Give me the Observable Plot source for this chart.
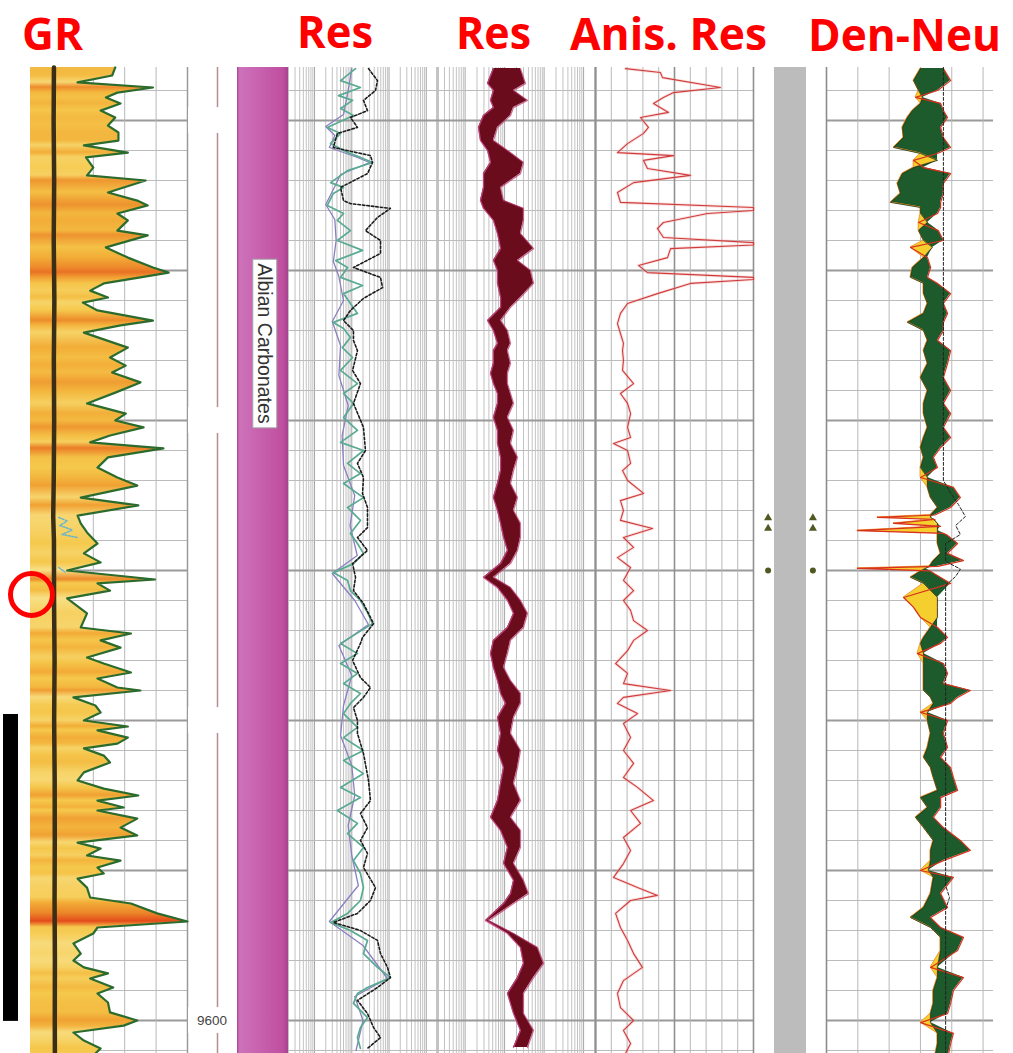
<!DOCTYPE html>
<html><head><meta charset="utf-8">
<script src="https://cdn.jsdelivr.net/npm/d3@7"></script>
<script src="https://cdn.jsdelivr.net/npm/@observablehq/plot@0.6"></script>
<style>
html,body{margin:0;padding:0;background:#fff;}
#chart{position:relative;width:1013px;height:1053px;overflow:hidden;font-family:"Liberation Sans",Arial,sans-serif;}
</style></head><body><div id="chart"></div>
<script>
// ---------------- DATA ----------------
const titleText = ["GR", "Res", "Res", "Anis. Res", "Den-Neu"];
const depthLabels = [9300, 9400, 9500, 9600];
const depthLabelText = ["", "", "", "9600"];
const formationName = ["Albian Carbonates"];
const formationTop = [9282.33];
const formationBottom = [9611];
const formationLabelDepth = [9374.3];

// GR (API) : [depth ft, value]
const grCurve = [[9282.3,81],[9285,78],[9287.3,45],[9289,117],[9290.7,83],[9292.3,72],[9294.3,86],[9296.7,67],[9299,81],[9301.7,74],[9304,84],[9306.7,84],[9308.3,51],[9310.7,93],[9312.3,53],[9315.7,60],[9318.3,54],[9320,110],[9324,74],[9326.7,102],[9328.3,112],[9331,83],[9333.3,93],[9336.7,83],[9338.3,112],[9342.3,72],[9345.7,93],[9349,117],[9350.7,132],[9352.3,105],[9354.3,70],[9356.7,57],[9359,74],[9360.7,50],[9363.3,64],[9366.7,117],[9368.3,86],[9370.7,51],[9375.7,93],[9379,76],[9381.7,91],[9384,78],[9387.3,105],[9390.7,81],[9394.3,54],[9397.7,91],[9400,81],[9402.3,108],[9405,76],[9407.3,57],[9409.3,127],[9412.3,74],[9415.7,64],[9419,83],[9421.7,102],[9425.7,48],[9428.3,103],[9431.7,45],[9434.3,48],[9437.3,54],[9441,64],[9444.3,51],[9447.3,67],[9450,35],[9453,119],[9454.3,64],[9456.7,76],[9459.3,35],[9464.3,54],[9469,48],[9471,96],[9473.3,67],[9475.7,86],[9479,54],[9481,70],[9484,96],[9486,64],[9489,83],[9490,105],[9492.3,41],[9495,62],[9497.3,67],[9500,51],[9502,93],[9503.3,64],[9505.7,93],[9507.7,83],[9509.3,51],[9511.7,70],[9514,76],[9517.3,51],[9520,45],[9522.7,70],[9525,103],[9526.7,64],[9529,89],[9530,64],[9532.7,102],[9535.7,86],[9538.3,102],[9540.7,45],[9542.7,67],[9545,54],[9546.7,86],[9549,64],[9551,70],[9552.7,45],[9555.7,54],[9559,57],[9561,96],[9564.3,121],[9567,150],[9569,64],[9571,60],[9574.3,41],[9577.7,48],[9580,41],[9582.3,51],[9584.3,74],[9586,57],[9589,79],[9591,64],[9594,74],[9597.3,76],[9600,102],[9601.7,89],[9604,41],[9606.7,51],[9609.3,67],[9611,62]];
// caliper-like curve in GR track
const calCurve = [[9282.3,22.4],[9300,22.1],[9320,22.6],[9340,22.2],[9360,22.8],[9380,22.3],[9400,22.6],[9420,22.2],[9432,21.7],[9440,22.4],[9460,22.5],[9480,23.0],[9500,22.6],[9520,23.1],[9540,23.2],[9560,23.0],[9580,23.3],[9600,23.2],[9611,23.3]];
const grDotCurve = [[9432.3,27],[9433.5,35],[9435,28],[9436.5,40],[9438,30],[9439,45],[9440,null],[9449,27],[9450.5,33]];

// Resistivity track 1 (ohm.m)
const resTeal = [[9282.7,12.6],[9286.7,5.0],[9289,17.1],[9291.7,4.4],[9293.3,10.5],[9296,5.0],[9298.3,11.1],[9302.3,2.2],[9304.3,5.0],[9307.7,2.7],[9310.7,7.7],[9312.3,17.1],[9314,36],[9316.7,7.7],[9320.7,2.7],[9322.3,6.0],[9324.3,3.2],[9328.3,2.2],[9331,6.0],[9333.3,4.1],[9336.7,9.2],[9340,4.1],[9343.3,19.4],[9346.7,3.7],[9349,7.7],[9352.3,5.0],[9355,19.4],[9357.7,6.0],[9361,9.2],[9364.3,14.2],[9367.3,3.2],[9369.3,6.0],[9372.3,9.2],[9375.7,5.6],[9379,10.5],[9383.3,5.0],[9387.7,14.2],[9391,6.0],[9394.3,11.1],[9399,6.0],[9403.3,14.2],[9407.3,5.0],[9410,20.6],[9414.3,7.7],[9417.7,17.1],[9421,6.0],[9425.7,20.6],[9429,7.7],[9433.3,17.1],[9437.7,9.2],[9441,14.2],[9444.3,20.6],[9447.7,11.1],[9450.7,3.2],[9453.3,7.7],[9456.7,9.2],[9460,17.1],[9464,26.4],[9467.7,36],[9472.3,9.2],[9474.3,5.0],[9477.7,14.2],[9481,5.0],[9484.3,14.2],[9487.7,6.0],[9491,17.1],[9494.3,9.2],[9497.7,6.0],[9502.3,14.2],[9505.7,6.0],[9510,20.6],[9513.3,6.0],[9517.7,20.6],[9522.3,5.0],[9525.7,17.1],[9530,4.1],[9534.3,14.2],[9537.7,7.7],[9542.3,20.6],[9546.7,11.1],[9551,17.1],[9555.7,20.6],[9560,17.1],[9564.3,7.7],[9567.3,2.7],[9570,9.2],[9573.3,26.4],[9577.7,20.6],[9582.3,49],[9585.7,109],[9589,26.4],[9591,14.2],[9594.3,11.1],[9599,26.4],[9602.3,17.1],[9605.7,14.2],[9609.3,17.1]];
const resPurple = [[9282.7,10],[9290,8],[9298,6],[9302,2.0],[9305,3.5],[9309,2.5],[9312,12],[9314,30],[9318,5],[9322,3.5],[9328,2.0],[9333,3.5],[9340,3.8],[9347,3.2],[9352,4.5],[9360,6],[9367,3.0],[9375,5],[9385,4.5],[9395,8],[9405,5.5],[9415,6],[9425,12],[9435,9],[9445,14],[9451,3.0],[9460,12],[9468,28],[9475,4.5],[9485,10],[9495,6],[9505,5],[9515,10],[9525,12],[9535,8],[9545,10],[9555,15],[9567,2.5],[9575,20],[9586,90],[9592,12],[9600,20],[9610,13]];
const resDotted = [[9282.7,28.1],[9286.7,49],[9290,43.3],[9293.3,20.6],[9296.7,26.4],[9299,9.2],[9302.3,14.2],[9304.3,4.1],[9309,3.2],[9311.7,31.8],[9314,36],[9317.7,26.4],[9322.3,5.0],[9326.7,6.0],[9327.7,9.2],[9329.3,109],[9332.3,49],[9336.7,23.3],[9340,59],[9344.3,59],[9349,11.1],[9352.3,59],[9355.7,67],[9359.3,20.6],[9363.3,9.2],[9366.7,6.0],[9370,11.1],[9373.3,11.1],[9376.7,14.2],[9383.3,10.5],[9387.7,17.1],[9394.3,11.1],[9402.3,20.6],[9410,23.3],[9414.3,14.2],[9419,20.6],[9424.3,19.4],[9429,26.4],[9435.7,26.4],[9439,14.2],[9443.3,26.4],[9447.7,10.5],[9452.3,12.6],[9456.7,11.1],[9461,20.6],[9467.7,38.3],[9472.3,19.4],[9474.3,17.1],[9480,10.5],[9485.7,17.1],[9489,31.8],[9492.3,20.6],[9495.7,11.1],[9500,14.2],[9504.3,14.2],[9511,20.6],[9520,28.1],[9526.7,31.8],[9531,17.1],[9535.7,26.4],[9540,17.1],[9544.3,26.4],[9549,20.6],[9555.7,43.3],[9560,31.8],[9564.3,14.2],[9567.3,3.2],[9570,17.1],[9573.3,49],[9577.7,59],[9582.3,91],[9585.7,109],[9589,49],[9593.3,14.2],[9597.7,26.4],[9602.3,38.3],[9605.7,59],[9609.3,26.4]];

// Resistivity track 2 : [depth, low curve, high curve]
const res2Band = [[9282.7,5.2,25.2],[9287.7,3.69,33.8],[9290,5.2,16.8],[9293.3,4.4,38],[9295.7,5.2,16.8],[9298.3,2.92,14.1],[9302.3,2.18,6.6],[9306.7,2.45,5.2],[9310,3.69,11.8],[9314,4.4,30],[9317.7,2.92,25.2],[9322.3,2.92,7.9],[9326.7,2.45,9.4],[9329.3,2.92,30],[9333.3,5.2,30],[9337.7,6.6,25.2],[9342.7,7.9,54],[9346.7,5.2,21.2],[9350,6.6,45],[9354.3,6.6,54],[9359,7.9,25.2],[9362.3,7.9,14.1],[9366.7,3.69,7.9],[9370,5.2,11.8],[9374.3,6.6,14.1],[9376.7,5.2,11.8],[9381,5.2,14.1],[9384.3,4.4,11.8],[9387.7,5.2,11.8],[9391,6.6,14.1],[9394.3,6.6,16.8],[9399,5.2,11.8],[9403.3,6.6,16.8],[9407.7,6.6,14.1],[9412.3,7.9,21.2],[9416.7,7.9,16.8],[9421,6.6,14.1],[9425.7,5.2,21.2],[9430,6.6,16.8],[9434.3,7.9,25.2],[9439,9.4,25.2],[9443.3,11.8,21.2],[9447.7,7.9,14.1],[9452.3,2.92,5.2],[9455.7,6.6,14.1],[9460,11.8,25.2],[9464.3,16.8,38],[9469,11.8,30],[9473.3,5.2,14.1],[9477.7,4.4,11.8],[9482.3,5.2,9.4],[9486.7,6.6,14.1],[9491,7.9,25.2],[9494.3,10.5,25.2],[9499,6.6,16.8],[9504.3,7.9,14.1],[9510,6.6,25.2],[9515.7,9.4,21.2],[9521,7.9,16.8],[9526.7,6.6,25.2],[9532.3,4.4,14.1],[9536.7,7.9,25.2],[9542.3,11.8,25.2],[9547.7,9.4,16.8],[9553.3,16.8,30],[9557.7,14.1,40],[9561,9.4,16.8],[9566.7,3.28,3.91],[9571,11.8,16.8],[9575.7,25.2,68],[9581,30,97],[9585.7,21.2,54],[9591,11.8,30],[9597.7,16.8,30],[9603.3,25.2,54],[9609,16.8,38]];

// Anisotropy of resistivity
const anisCurve = [[9282.7,1.90],[9284,4.11],[9285.7,4.24],[9289,7.91],[9290.7,4.94],[9292.3,4.30],[9294.3,3.67],[9297.3,4.62],[9299,2.85],[9302.3,3.35],[9304.3,3.04],[9307.7,2.03],[9310.7,1.39],[9311.7,4.94],[9313.3,3.04],[9316,3.29],[9318.3,6.01],[9320.7,2.41],[9324,1.39],[9327.3,1.58],[9329,10],[9330,10],[9331,7.09],[9334,4.30],[9336,3.92],[9339,4.30],[9340.7,10],[9341.5,10],[9342.7,4.75],[9345.7,4.56],[9348.3,2.72],[9350.7,3.29],[9352.3,10],[9353,10],[9354.3,6.01],[9357.7,3.92],[9361,2.03],[9364.3,1.58],[9367.7,1.39],[9371,1.58],[9374.3,1.77],[9376.7,1.71],[9380,1.77],[9383.3,1.71],[9387.7,2.41],[9391,1.58],[9394.3,2.03],[9397.7,2.22],[9402.3,2.03],[9405.7,2.22],[9407.7,1.14],[9410,2.03],[9414.3,2.22],[9416.7,1.71],[9420,2.03],[9424.3,3.04],[9426.7,1.58],[9430,1.77],[9433.3,1.58],[9436,3.61],[9439,1.77],[9442.3,2.41],[9445.7,1.39],[9449,2.22],[9453.3,1.77],[9456.7,2.41],[9460,1.77],[9463.3,2.22],[9466.7,2.41],[9470,3.29],[9473.3,2.41],[9476.7,2.03],[9481,1.27],[9484.3,2.03],[9487.7,1.77],[9490,4.75],[9492.3,1.77],[9494.3,1.39],[9497.7,2.66],[9501,1.77],[9505.7,2.22],[9510,1.77],[9514.3,2.41],[9519,1.77],[9522.3,2.66],[9526.7,3.67],[9530,2.22],[9534.3,2.85],[9539,1.77],[9543.3,2.22],[9547.7,1.77],[9552.3,1.14],[9555.7,2.66],[9558.3,3.92],[9560,2.22],[9564.3,1.27],[9569,1.58],[9573.3,2.03],[9577.7,2.41],[9582.3,2.97],[9586.7,1.77],[9591,1.39],[9595.7,1.58],[9600,2.41],[9603.3,1.77],[9607.7,2.22],[9611,1.90]];

// Density-Neutron (p.u.) : [depth, neutron, density]
const denNeu = [[9282.7,11.2,3.0],[9286.7,13.7,0.4],[9290,11.9,5.1],[9292.3,10.5,13.0],[9294.3,11.2,4.0],[9296.7,14.1,3.0],[9299,15.9,1.5],[9302.3,17.7,4.0],[9305.7,17.3,3.0],[9309,20.9,0.4],[9311,11.2,5.1],[9313.3,5.1,13.7],[9315.7,13.7,10.1],[9317.7,17.7,0.4],[9321,19.5,3.0],[9324.3,18.4,3.0],[9327.3,22.0,4.0],[9329,11.2,4.0],[9331,11.2,5.1],[9334,8.7,11.9],[9336.7,11.9,4.8],[9340,10.1,3.0],[9342.3,6.9,14.8],[9345.7,10.1,8.7],[9349,14.1,7.6],[9352.3,14.8,8.7],[9354.3,10.1,5.1],[9357.7,10.1,0.4],[9361,8.7,3.0],[9364.3,10.1,1.5],[9367.3,15.9,3.0],[9370,10.1,3.0],[9373.3,8.7,5.1],[9376.7,10.1,0.4],[9381,8.7,1.5],[9385.7,11.2,3.0],[9390,8.7,0.4],[9394.3,10.1,3.0],[9397.7,10.1,0.4],[9402.3,8.7,3.0],[9405.7,10.1,0.4],[9409,11.2,4.0],[9412.3,10.1,6.6],[9415.7,11.2,5.1],[9419,8.7,11.2],[9422.3,8.7,-0.6],[9425.7,7.6,-3.1],[9429,5.1,0.4],[9431.5,7.6,6.0],[9432.3,7.6,26.7],[9433,6.5,6.0],[9434.3,5.1,20.9],[9435.3,5.1,4.0],[9436.7,5.1,33.9],[9437.6,5.1,3.0],[9438.3,5.1,1.5],[9441,5.1,-2.1],[9444.3,4.0,1.5],[9446.7,6.6,-4.2],[9448.6,8.0,5.0],[9449.3,9.4,33.9],[9450.1,11.0,8.0],[9452.3,14.8,4.0],[9454.3,10.1,0.4],[9459,5.1,17.3],[9462.3,5.1,13.7],[9465.7,5.1,11.2],[9469,7.6,5.1],[9472.3,10.1,1.5],[9474.3,11.2,4.0],[9477.7,10.1,12.3],[9481,10.1,3.0],[9484.3,10.1,1.5],[9487.7,10.1,3.0],[9490,10.1,-6.7],[9492.3,7.6,-2.1],[9494.3,6.6,0.4],[9497.3,8.7,11.2],[9500,8.7,1.5],[9504.3,7.6,3.0],[9509,8.7,1.5],[9512.3,10.1,4.0],[9515.7,7.6,0.4],[9519,6.6,-0.6],[9523.3,5.1,-2.1],[9525.7,11.2,4.0],[9529,8.7,4.0],[9532.3,13.0,6.6],[9535.7,10.1,3.0],[9540,6.6,-3.1],[9543.3,7.6,-6.7],[9546.7,7.6,3.0],[9550,8.4,11.2],[9552.3,6.6,-0.6],[9557.7,7.6,4.0],[9562.3,10.1,1.5],[9565.7,14.8,7.6],[9569,7.6,4.0],[9572.3,4.0,-4.2],[9576.7,4.0,-2.1],[9582.3,5.1,7.6],[9585.7,5.1,-4.2],[9590,6.6,-0.6],[9594.3,6.6,0.4],[9597.7,7.6,1.5],[9600.7,7.6,11.2],[9604.3,5.1,-0.6],[9607.7,5.1,0.4],[9611,5.8,1.1]];
const denDashed = [[9282.3,3.0],[9420,3.0],[9424,0.5],[9428,-2.4],[9432,-4.9],[9435,-1.4],[9438,-3.1],[9441,2.2],[9447,2.2],[9449.5,-3.1],[9452,-1.4],[9455,2.2],[9555,2.2],[9559,0.8],[9563,2.2],[9611,2.2]];

// markers beside the grey column
const markDepth = [9432.5, 9436, 9432.5, 9436, 9450, 9450];
const markSide = [-0.2, -0.2, 1.2, 1.2, -0.2, 1.2];
const markSymbol = ["triangle", "triangle", "triangle", "triangle", "circle", "circle"];

// annotations
const annoBarTop = [9498], annoBarBottom = [9600.3];
const annoCircleDepth = [9458];

// ---------------- DRAWING ----------------
const chart = document.getElementById("chart");
const TOP = 9282.33, BOT = 9611, H = 986, Y0 = 67;
const depthMinor = d3.range(9290, BOT, 10);
const depthMajor = depthMinor.filter(d => d % 50 === 0);
const yScale = {domain: [TOP, BOT], reverse: true, axis: null};

function depthGrid() {
  return [
    Plot.ruleY(depthMinor.filter(d => d % 50 !== 0), {stroke: "#bcbcbc", strokeWidth: 1}),
    Plot.ruleY(depthMajor, {stroke: "#9a9a9a", strokeWidth: 2})
  ];
}
function track(left, width, x, marks) {
  const svg = Plot.plot({
    width, height: H, margin: 0, marginTop: 0, marginRight: 0, marginBottom: 0, marginLeft: 0,
    x: {...x, axis: null}, y: yScale,
    style: {background: "transparent", overflow: "visible"},
    marks
  });
  svg.style.position = "absolute";
  svg.style.left = left + "px";
  svg.style.top = Y0 + "px";
  chart.appendChild(svg);
  return svg;
}

// titles
const titleLeft = [22, 297, 456, 570, 808];
const titleWidth = [61, 76, 75, 197, 193];
const titleBase = [50, 48, 49, 50, 51];
const head = d3.select(chart).append("svg").attr("width", 1013).attr("height", 66)
  .style("position", "absolute").style("left", 0).style("top", 0).style("overflow", "visible");
titleText.forEach((t, i) => {
  head.append("text").attr("x", titleLeft[i]).attr("y", titleBase[i])
    .attr("textLength", titleWidth[i]).attr("lengthAdjust", "spacingAndGlyphs")
    .attr("font-family", "'Open Sans', sans-serif").attr("font-weight", 700)
    .attr("font-size", 44).attr("fill", "#ff0000").text(t);
});

// GR track
const grColor = d3.scaleLinear().domain([35, 65, 95, 125, 150])
  .range(["#f8df86", "#f5c84b", "#f2ab36", "#eb8027", "#e34b1b"]).clamp(true);
const grTicks = [0, 30, 60, 90, 120];
const grSvg = track(30, 157, {domain: [0, 150]}, [
  ...depthGrid(),
  Plot.ruleX(grTicks, {stroke: "#b8b8b8", strokeWidth: 1}),
  Plot.ruleX([150], {stroke: "#9a9a9a", strokeWidth: 1.5}),
  Plot.areaX(grCurve, {y: d => d[0], x1: 0, x2: d => d[1], fill: "url(#grFill)"}),
  Plot.lineX(calCurve, {y: d => d[0], x: d => d[1], stroke: "#3a2f16", strokeWidth: 4.5}),
  Plot.lineX(grDotCurve, {y: d => d[0], x: d => d[1], stroke: "#69b6cf", strokeWidth: 1.5, strokeDasharray: "2,1.5"}),
  Plot.lineX(grCurve, {y: d => d[0], x: d => d[1], stroke: "#2c6b2e", strokeWidth: 2.2})
]);
{
  const ys = grSvg.scale("y");
  const g = d3.select(grSvg).insert("defs", ":first-child").append("linearGradient")
    .attr("id", "grFill").attr("gradientUnits", "userSpaceOnUse")
    .attr("x1", 0).attr("y1", 0).attr("x2", 0).attr("y2", H);
  grCurve.forEach(([d, v]) => g.append("stop").attr("offset", Math.max(0, Math.min(1, ys.apply(d) / H))).attr("stop-color", grColor(v)));
}

// depth track
const depthSvg = track(187, 50, {domain: [0, 1]}, [
  Plot.ruleX([0.6], {stroke: "#b88d8d", strokeWidth: 1.5}),
  Plot.rect(depthLabels, {x1: 0.02, x2: 0.97, y1: d => d - 4.3, y2: d => d + 4.3, fill: "white"}),
  Plot.text(depthLabels, {x: 0.49, y: d => d, text: (d, i) => depthLabelText[i], fontSize: 13.5, fill: "#444", fontFamily: "'Liberation Sans', Arial, sans-serif"})
]);

// lithology column
const lithSvg = track(237, 51, {domain: [0, 1]}, [
  Plot.rect(formationName, {x1: 0, x2: 1, y1: (d, i) => formationTop[i], y2: (d, i) => formationBottom[i], fill: "url(#purp)"}),
  Plot.text(formationName, {x: 0.52, y: (d, i) => formationLabelDepth[i], text: d => d, rotate: 90, fontSize: 19.5, fill: "#333", fontFamily: "'Liberation Sans', Arial, sans-serif"})
]);
{
  const lg = d3.select(lithSvg).insert("defs", ":first-child").append("linearGradient").attr("id", "purp")
    .attr("x1", 0).attr("x2", 1).attr("y1", 0).attr("y2", 0);
  [[0, "#a8488f"], [0.05, "#cd72ba"], [0.4, "#c863b0"], [0.9, "#bf4f9f"], [1, "#a5438d"]]
    .forEach(([o, c]) => lg.append("stop").attr("offset", o).attr("stop-color", c));
  const t = lithSvg.querySelector("g[aria-label=text] text");
  if (t) {
    const bb = t.getBBox();
    const r = document.createElementNS("http://www.w3.org/2000/svg", "rect");
    r.setAttribute("x", bb.x - 4); r.setAttribute("y", bb.y - 1);
    r.setAttribute("width", bb.width + 8); r.setAttribute("height", bb.height + 2);
    r.setAttribute("fill", "white"); r.setAttribute("stroke", "#a0a0a0"); r.setAttribute("stroke-width", 1);
    r.setAttribute("transform", t.getAttribute("transform") || "");
    t.parentNode.insertBefore(r, t);
  }
}

// log grid for resistivity
const logGrid = [];
for (let e = -1; e <= 3; e++) for (let m = 1; m <= 9; m++) {
  const v = +(m * Math.pow(10, e)).toPrecision(3);
  if (v >= 0.2 && v <= 2000) logGrid.push(v);
}
const decades = [1, 10, 100, 1000];
function logGridMarks() {
  return [
    Plot.ruleX(logGrid.filter(v => !decades.includes(v)), {stroke: "#c2c2c2", strokeWidth: 1}),
    Plot.ruleX(decades, {stroke: "#a6a6a6", strokeWidth: 1}),
    Plot.ruleX([2000], {stroke: "#8c8c8c", strokeWidth: 2}),
    ...depthGrid()
  ];
}
track(288, 149, {type: "log", domain: [0.2, 2000]}, [
  ...logGridMarks(),
  Plot.lineX(resPurple, {y: d => d[0], x: d => d[1], stroke: "#8a7fc2", strokeWidth: 1.3}),
  Plot.lineX(resTeal, {y: d => d[0], x: d => d[1], stroke: "#58aa92", strokeWidth: 1.7}),
  Plot.lineX(resDotted, {y: d => d[0], x: d => d[1], stroke: "#1c1c1c", strokeWidth: 1.6, strokeDasharray: "2.5,2"})
]);
track(437, 158, {type: "log", domain: [0.2, 2000]}, [
  ...logGridMarks(),
  Plot.areaX(res2Band, {y: d => d[0], x1: d => d[1], x2: d => d[2], fill: "#6b0c1c"}),
  Plot.lineX(res2Band, {y: d => d[0], x: d => d[1], stroke: "#c8488a", strokeWidth: 1.3, strokeOpacity: 0.85}),
  Plot.lineX(res2Band, {y: d => d[0], x: d => d[2], stroke: "#b8306a", strokeWidth: 1.3, strokeOpacity: 0.7})
]);

// anisotropy track
const anisTicks = d3.range(0, 11);
track(595, 158, {domain: [0, 10]}, [
  ...depthGrid(),
  Plot.ruleX(anisTicks.filter(v => v % 5 !== 0), {stroke: "#b8b8b8", strokeWidth: 1}),
  Plot.ruleX([0, 5, 10], {stroke: "#909090", strokeWidth: 1.6}),
  Plot.lineX(anisCurve, {y: d => d[0], x: d => d[1], stroke: "#f0a0a0", strokeWidth: 3, strokeOpacity: 0.35}),
  Plot.lineX(anisCurve, {y: d => d[0], x: d => d[1], stroke: "#cf3c3c", strokeWidth: 1.1})
]);

// grey column
track(774, 32, {domain: [0, 1]}, [
  Plot.rect([0], {x1: 0, x2: 1, y1: TOP, y2: BOT, fill: "#bcbcbc"}),
  Plot.dot(markDepth, {x: (d, i) => markSide[i], y: d => d, symbol: (d, i) => markSymbol[i], r: 3, fill: "#4e5a22"})
]);

// density-neutron track
const dnTicks = [45, 33.75, 22.5, 11.25, 0, -11.25];
track(826, 167, {domain: [45, -15]}, [
  ...depthGrid(),
  Plot.ruleX(dnTicks.slice(1), {stroke: "#b8b8b8", strokeWidth: 1}),
  Plot.ruleX([45], {stroke: "#8c8c8c", strokeWidth: 1.6}),
  Plot.areaX(denNeu, {y: d => d[0], x1: d => d[1], x2: d => Math.min(d[1], d[2]), fill: "#1d5a2c"}),
  Plot.areaX(denNeu, {y: d => d[0], x1: d => Math.max(d[1], d[2]), x2: d => d[1], fill: "#f5cf2e", stroke: "#ef8a22", strokeWidth: 0.8}),
  Plot.lineX(denNeu, {y: d => d[0], x: d => d[1], stroke: "#173d20", strokeWidth: 0.8}),
  Plot.lineX(denNeu, {y: d => d[0], x: d => d[2], stroke: "#d8321e", strokeWidth: 1.2}),
  Plot.lineX(denDashed, {y: d => d[0], x: d => d[1], stroke: "#222", strokeWidth: 1, strokeDasharray: "3,2"})
]);

// annotation overlay (left margin)
track(0, 60, {domain: [0, 60]}, [
  Plot.rect(annoBarTop, {x1: 3, x2: 18, y1: d => d, y2: (d, i) => annoBarBottom[i], fill: "#000"}),
  Plot.dot(annoCircleDepth, {x: 31, y: d => d, r: 21, stroke: "#ff0000", strokeWidth: 5, fill: "none"})
]);
</script></body></html>
